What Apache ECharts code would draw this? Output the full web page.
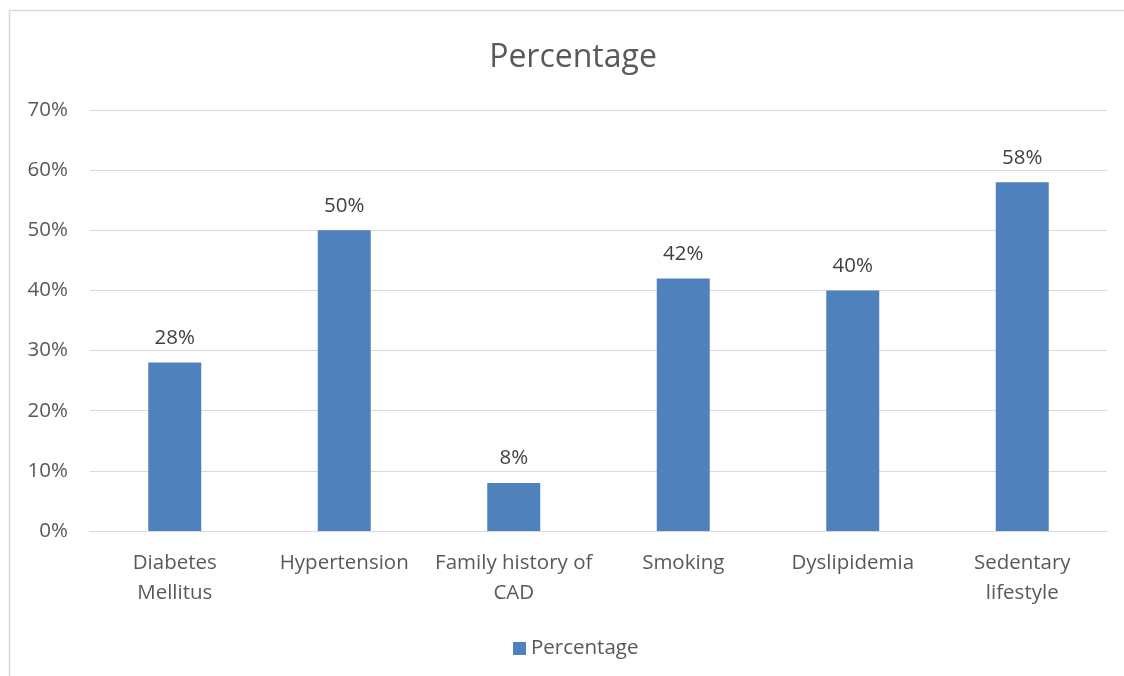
<!DOCTYPE html>
<html><head><meta charset="utf-8">
<script src="https://cdn.jsdelivr.net/npm/echarts@6/dist/echarts.min.js"></script>
<style>html,body{margin:0;padding:0;background:#fff}#c{width:1124px;height:676px}</style>
</head><body><div id="c"></div>
<script>
const categories = ['Diabetes\nMellitus', 'Hypertension', 'Family history of\nCAD', 'Smoking', 'Dyslipidemia', 'Sedentary\nlifestyle'];
const values = [28, 50, 8, 42, 40, 58];
const seriesName = 'Percentage';
const FONT = 'Open Sans';
const chart = echarts.init(document.getElementById('c'));
chart.setOption({
  animation: false,
  backgroundColor: '#fff',
  textStyle: {fontFamily: FONT, color: '#595959'},
  graphic: [{type: 'rect', shape: {x: 9.5, y: 10.5, width: 1130, height: 680}, style: {fill: 'none', stroke: '#d9d9d9', lineWidth: 1.5}, silent: true}],
  title: {text: 'Percentage', left: 568, top: 37, textAlign: 'center', textStyle: {fontFamily: FONT, fontSize: 32, fontWeight: 'normal', color: '#595959'}},
  legend: {data: [seriesName], left: 508, top: 633, itemWidth: 13, itemHeight: 13, itemGap: 6,
    textStyle: {fontFamily: FONT, fontSize: 20.5, color: '#595959'}, icon: 'rect'},
  grid: {left: 90, right: 17, top: 110, bottom: 145},
  xAxis: {type: 'category', data: categories, axisTick: {show: false},
    axisLine: {lineStyle: {color: '#d9d9d9', width: 1}},
    axisLabel: {fontFamily: FONT, fontSize: 20.5, color: '#595959', margin: 17, lineHeight: 30, interval: 0}},
  yAxis: {type: 'value', min: 0, max: 70, interval: 10,
    axisLabel: {formatter: '{value}%', fontFamily: FONT, fontSize: 20.5, color: '#595959', margin: 22},
    splitLine: {lineStyle: {color: '#d9d9d9', width: 1}}, axisLine: {show: false}, axisTick: {show: false}},
  series: [{name: seriesName, type: 'bar', data: values, barWidth: 53, itemStyle: {color: '#4F81BD'},
    label: {show: true, position: 'top', distance: 14, formatter: '{c}%', fontFamily: FONT, fontSize: 20.5, color: '#404040'}}]
});
</script></body></html>
